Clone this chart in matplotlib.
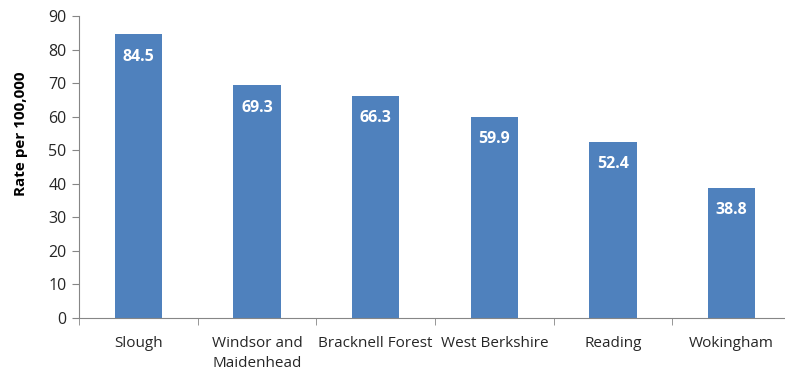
import matplotlib
matplotlib.use("Agg")
import matplotlib.pyplot as plt
import numpy as np

areas = ["Slough", "Windsor and\nMaidenhead", "Bracknell Forest", "West Berkshire", "Reading", "Wokingham"]
rates = [84.5, 69.3, 66.3, 59.9, 52.4, 38.8]
y_ticks = [0, 10, 20, 30, 40, 50, 60, 70, 80, 90]

plt.rcParams['font.family'] = ['Open Sans', 'DejaVu Sans']

fig = plt.figure(figsize=(7.85, 3.74), dpi=100)
ax = fig.add_axes([79/785, 56/374, 712/785, 302/374])

bar_color = "#4F81BD"
axis_color = "#868686"
text_color = "#262626"
x = np.arange(len(areas))
bars = ax.bar(x, rates, width=0.4, color=bar_color)

for xi, v in zip(x, rates):
    ax.annotate(f"{v:.1f}", xy=(xi, v), xytext=(0, -16), textcoords="offset points",
                ha="center", va="center", color="white", fontweight="bold", fontsize=11.5)

ax.set_xlim(-0.5, len(areas) - 0.5)
ax.set_ylim(0, 90)
ax.set_yticks(y_ticks)
ax.tick_params(axis="y", labelsize=11.5, length=5, color=axis_color, labelcolor=text_color, pad=4)

ax.set_xticks(x)
ax.set_xticklabels(areas, fontsize=11, color=text_color, va="top", linespacing=1.45)
ax.tick_params(axis="x", length=0, pad=13)
ax.set_xticks(np.arange(len(areas) + 1) - 0.5, minor=True)
ax.tick_params(axis="x", which="minor", length=5, color=axis_color)

for side in ["top", "right"]:
    ax.spines[side].set_visible(False)
for side in ["left", "bottom"]:
    ax.spines[side].set_color(axis_color)

ax.set_ylabel("Rate per 100,000", fontsize=11, fontweight="bold")
ax.yaxis.set_label_coords(-0.071, 0.61)

fig.savefig("out.png", dpi=100)
